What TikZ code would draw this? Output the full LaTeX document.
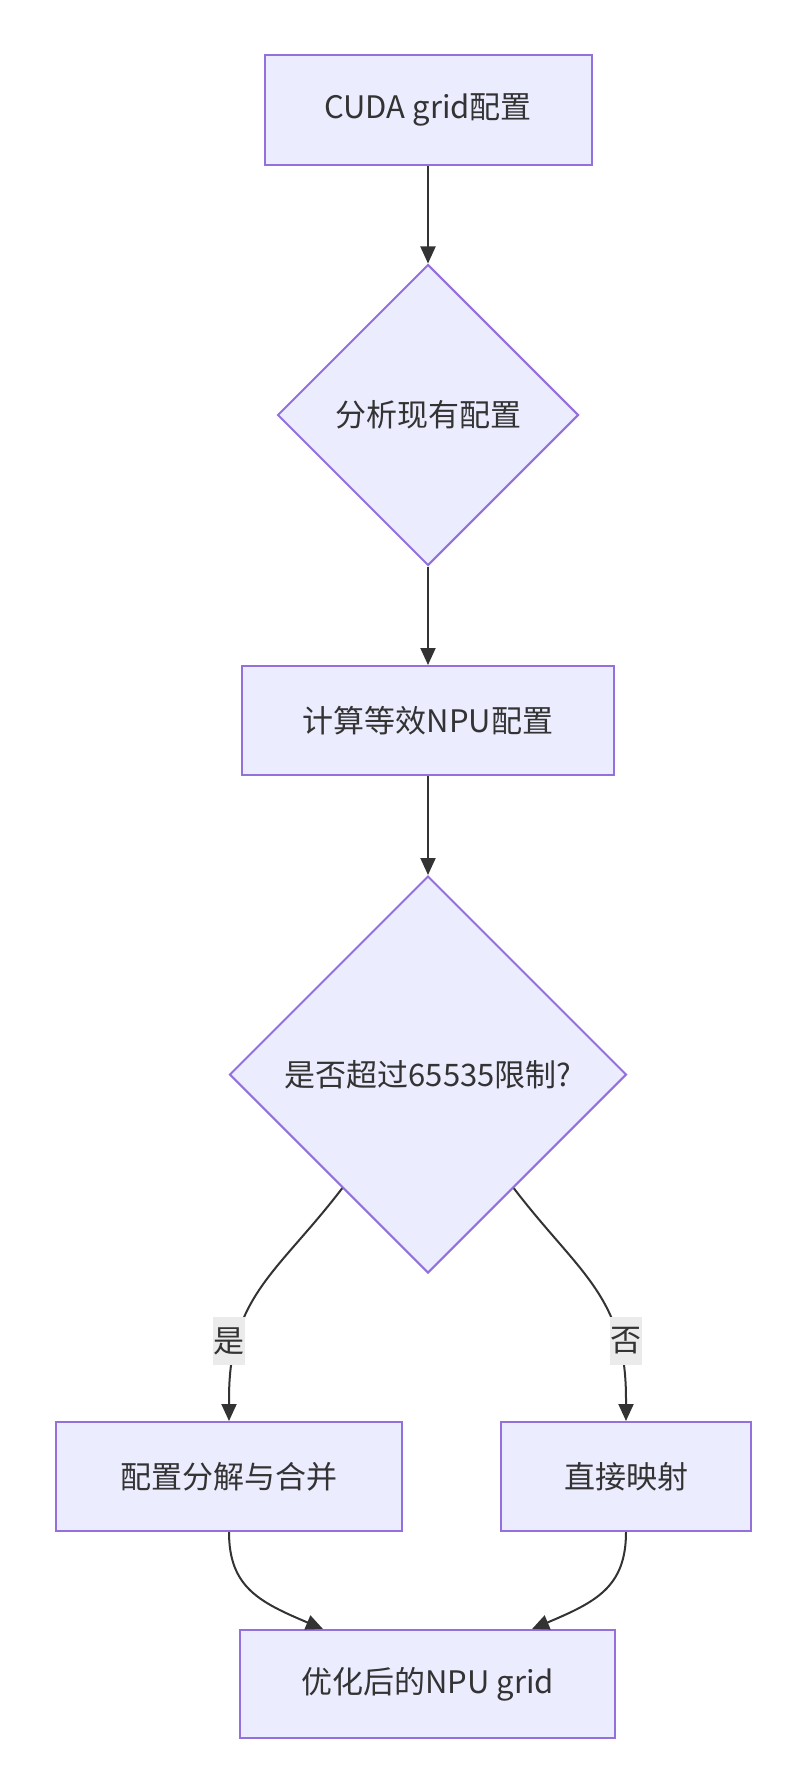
\documentclass[tikz,border=0pt]{standalone}
\usepackage{fontspec}
\setmainfont{Noto Sans CJK SC}
\usetikzlibrary{shapes.geometric,arrows.meta,calc}
\definecolor{nfill}{HTML}{ECECFF}
\definecolor{nborder}{HTML}{9370DB}
\definecolor{ink}{HTML}{333333}
\definecolor{lblbg}{HTML}{EBEBEB}
\begin{document}
\begin{tikzpicture}[x=1pt,y=-1pt,
  font=\fontsize{31}{38}\selectfont, text=ink,
  box/.style={draw=nborder,fill=nfill,line width=2pt,inner sep=0pt,rectangle},
  dia/.style={draw=nborder,fill=nfill,line width=2pt,inner sep=0pt,diamond,aspect=1,minimum width=#1,minimum height=#1},
  conn/.style={draw=ink,line width=2pt,-{Triangle[length=17pt,width=15pt]}},
  lbl/.style={fill=lblbg,inner sep=0pt,minimum height=48pt,minimum width=32pt}]
\useasboundingbox (0,0) rectangle (804,1787);
\fill[white] (0,0) rectangle (804,1787);
\node[box,minimum width=327pt,minimum height=110pt] (b1) at (428,110) {CUDA grid配置};
\node[dia=301pt] (d1) at (428,415) {分析现有配置};
\node[box,minimum width=372pt,minimum height=109pt] (b2) at (428,720.5) {计算等效NPU配置};
\node[dia=397pt] (d2) at (428,1074.5) {是否超过65535限制?};
\node[box,minimum width=346pt,minimum height=109pt] (bl) at (229,1476.5) {配置分解与合并};
\node[box,minimum width=250pt,minimum height=109pt] (br) at (626,1476.5) {直接映射};
\node[box,minimum width=375pt,minimum height=108pt] (bb) at (427.5,1684) {优化后的NPU grid};
\draw[conn] (b1) -- (d1);
\draw[conn] (d1) -- (b2);
\draw[conn] (b2) -- (d2);
\coordinate (sl) at ($(d2.west)!0.57!(d2.south)$);
\coordinate (sr) at ($(d2.east)!0.57!(d2.south)$);
\draw[conn] (sl) .. controls ($(sl)+(-65,85)$) and ($(bl.north)+(0,-125)$) .. ($(bl.north)+(0,-22)$) -- (bl.north);
\draw[conn] (sr) .. controls ($(sr)+(65,85)$) and ($(br.north)+(0,-125)$) .. ($(br.north)+(0,-22)$) -- (br.north);
\node[lbl] (ly) at ($(bl.north)+(0,-80)$) {是};
\node[lbl] (ln) at ($(br.north)+(0,-80)$) {否};
\draw[conn] (bl.south) .. controls ($(bl.south)+(0,55)$) and ($(bl.south)+(30,70)$) .. ($(bb.north west)+(84,0)$);
\draw[conn] (br.south) .. controls ($(br.south)+(0,55)$) and ($(br.south)+(-30,70)$) .. ($(bb.north east)+(-84,0)$);
\end{tikzpicture}
\end{document}
